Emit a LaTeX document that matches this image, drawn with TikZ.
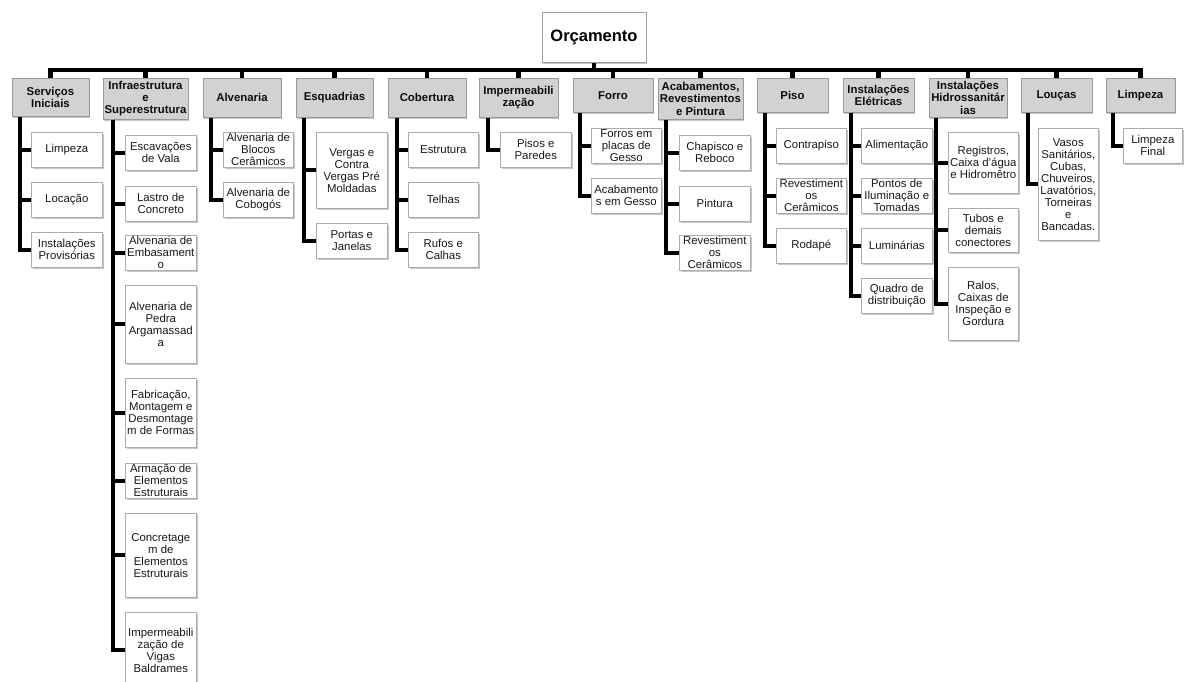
\documentclass[tikz,border=0pt]{standalone}
\usepackage{fontspec}
\setmainfont{Liberation Sans}
\usetikzlibrary{shadows}
\begin{document}
\begin{tikzpicture}[x=1pt, y=-1pt,
    boxshadow/.style={drop shadow={shadow xshift=1.2pt, shadow yshift=-1.8pt, fill=black, opacity=0.22}},
    topbox/.style={anchor=north, draw=gray!75, fill=white, line width=0.7pt, boxshadow, inner sep=1pt, text=black, font=\fontsize{16.5}{18}\selectfont\bfseries},
    catbox/.style={anchor=north, draw=gray!80, fill=gray!35, line width=0.7pt, boxshadow, inner sep=1pt, align=center, text=black!95, font=\fontsize{11.4}{12.2}\selectfont\bfseries},
    itembox/.style={anchor=north west, draw=gray!65, fill=white, line width=0.6pt, boxshadow, inner sep=1pt, align=center, text=black!90, font=\fontsize{11.4}{12}\selectfont},
    sz/.style 2 args={minimum width=#1pt, minimum height=#2pt},
    conn/.style={line width=4.3pt, black}]
    %\draw[help lines, color=gray!30, dashed] (0,0) grid[step=50] (1184,682);
    \useasboundingbox (0,0) rectangle (1184,682);
    \clip (0,0) rectangle (1184,682);
    % root
    \node[topbox, sz={104}{50}] (orc) at (594,12) {Orçamento};
    \coordinate (bus) at (594,70);
    % categories
    \node[catbox, sz={77}{38}] (serv) at (50.5,78) {Serviços\\Iniciais};
    \node[catbox, sz={85}{41}] (infra) at (145.5,78) {Infraestrutura\\e\\Superestrutura};
    \node[catbox, sz={78}{39}] (alv) at (242,78) {Alvenaria};
    \node[catbox, sz={77}{39}] (esq) at (334.5,78) {Esquadrias};
    \node[catbox, sz={78}{39}] (cob) at (427,78) {Cobertura};
    \node[catbox, sz={79}{39}] (imp) at (518.5,78) {Impermeabili\\zação};
    \node[catbox, sz={80}{34}] (forro) at (613,78) {Forro};
    \node[catbox, sz={85}{41}] (acab) at (700.5,78) {Acabamentos,\\Revestimentos\\e Pintura};
    \node[catbox, sz={71}{34}] (piso) at (792.5,78) {Piso};
    \node[catbox, sz={71}{34}] (elet) at (878.5,78) {Instalações\\Elétricas};
    \node[catbox, sz={78}{39}] (hidro) at (968,78) {Instalações\\Hidrossanitár\\ias};
    \node[catbox, sz={71}{34}] (loucas) at (1056.5,78) {Louças};
    \node[catbox, sz={69}{34}] (limp) at (1140.5,78) {Limpeza};
    % Servicos Iniciais
    \node[itembox, sz={71}{35}] (serv1) at (31,132) {Limpeza};
    \node[itembox, sz={71}{35}] (serv2) at (31,182) {Locação};
    \node[itembox, sz={71}{35}] (serv3) at (31,232) {Instalações\\Provisórias};
    % Infraestrutura e Superestrutura
    \node[itembox, sz={71}{35}] (infra1) at (125,135) {Escavações\\de Vala};
    \node[itembox, sz={71}{35}] (infra2) at (125,186) {Lastro de\\Concreto};
    \node[itembox, sz={71}{35}] (infra3) at (125,235) {Alvenaria de\\Embasament\\o};
    \node[itembox, sz={71}{78}] (infra4) at (125,285) {Alvenaria de\\Pedra\\Argamassad\\a};
    \node[itembox, sz={71}{69}] (infra5) at (125,378) {Fabricação,\\Montagem e\\Desmontage\\m de Formas};
    \node[itembox, sz={71}{35}] (infra6) at (125,463) {Armação de\\Elementos\\Estruturais};
    \node[itembox, sz={71}{84}] (infra7) at (125,513) {Concretage\\m de\\Elementos\\Estruturais};
    \node[itembox, sz={71}{76}] (infra8) at (125,612) {Impermeabili\\zação de\\Vigas\\Baldrames};
    % Alvenaria
    \node[itembox, sz={70}{35}] (alv1) at (223,132) {Alvenaria de\\Blocos\\Cerâmicos};
    \node[itembox, sz={70}{35}] (alv2) at (223,182) {Alvenaria de\\Cobogós};
    % Esquadrias
    \node[itembox, sz={71}{76}] (esq1) at (316,132) {Vergas e\\Contra\\Vergas Pré\\Moldadas};
    \node[itembox, sz={71}{35}] (esq2) at (316,223) {Portas e\\Janelas};
    % Cobertura
    \node[itembox, sz={70}{35}] (cob1) at (408,132) {Estrutura};
    \node[itembox, sz={70}{35}] (cob2) at (408,182) {Telhas};
    \node[itembox, sz={70}{35}] (cob3) at (408,232) {Rufos e\\Calhas};
    % Impermeabilizacao
    \node[itembox, sz={71}{35}] (imp1) at (500,132) {Pisos e\\Paredes};
    % Forro
    \node[itembox, sz={70}{35}] (forro1) at (591,128) {Forros em\\placas de\\Gesso};
    \node[itembox, sz={70}{35}] (forro2) at (591,178) {Acabamento\\s em Gesso};
    % Acabamentos
    \node[itembox, sz={71}{35}] (acab1) at (679,135) {Chapisco e\\Reboco};
    \node[itembox, sz={71}{35}] (acab2) at (679,186) {Pintura};
    \node[itembox, sz={71}{35}] (acab3) at (679,235) {Revestiment\\os\\Cerâmicos};
    % Piso
    \node[itembox, sz={70}{35}] (piso1) at (776,128) {Contrapiso};
    \node[itembox, sz={70}{35}] (piso2) at (776,178) {Revestiment\\os\\Cerâmicos};
    \node[itembox, sz={70}{35}] (piso3) at (776,228) {Rodapé};
    % Instalacoes Eletricas
    \node[itembox, sz={71}{35}] (elet1) at (861,128) {Alimentação};
    \node[itembox, sz={71}{35}] (elet2) at (861,178) {Pontos de\\Iluminação e\\Tomadas};
    \node[itembox, sz={71}{35}] (elet3) at (861,228) {Luminárias};
    \node[itembox, sz={71}{35}] (elet4) at (861,278) {Quadro de\\distribuição};
    % Instalacoes Hidrossanitarias
    \node[itembox, sz={70}{61}] (hidro1) at (948,132) {Registros,\\Caixa d'água\\e Hidromêtro};
    \node[itembox, sz={70}{44}] (hidro2) at (948,208) {Tubos e\\demais\\conectores};
    \node[itembox, sz={70}{73}] (hidro3) at (948,267) {Ralos,\\Caixas de\\Inspeção e\\Gordura};
    % Loucas
    \node[itembox, sz={60}{112}] (loucas1) at (1038,128) {Vasos\\Sanitários,\\Cubas,\\Chuveiros,\\Lavatórios,\\Torneiras\\e\\Bancadas.};
    % Limpeza
    \node[itembox, sz={59}{35}] (limp1) at (1123,128) {Limpeza\\Final};
    % bus
    \draw[conn] (orc.south) -- (bus);
    \draw[conn] (serv.north) |- (bus);
    \draw[conn] (infra.north) |- (bus);
    \draw[conn] (alv.north) |- (bus);
    \draw[conn] (esq.north) |- (bus);
    \draw[conn] (cob.north) |- (bus);
    \draw[conn] (imp.north) |- (bus);
    \draw[conn] (forro.north) |- (bus);
    \draw[conn] (acab.north) |- (bus);
    \draw[conn] (piso.north) |- (bus);
    \draw[conn] (elet.north) |- (bus);
    \draw[conn] (hidro.north) |- (bus);
    \draw[conn] (loucas.north) |- (bus);
    \draw[conn] (limp.north) |- (bus);
    % branches
    \draw[conn] ([xshift=8pt]serv.south west) |- (serv1.west);
    \draw[conn] ([xshift=8pt]serv.south west) |- (serv2.west);
    \draw[conn] ([xshift=8pt]serv.south west) |- (serv3.west);
    \draw[conn] ([xshift=10pt]infra.south west) |- (infra1.west);
    \draw[conn] ([xshift=10pt]infra.south west) |- (infra2.west);
    \draw[conn] ([xshift=10pt]infra.south west) |- (infra3.west);
    \draw[conn] ([xshift=10pt]infra.south west) |- (infra4.west);
    \draw[conn] ([xshift=10pt]infra.south west) |- (infra5.west);
    \draw[conn] ([xshift=10pt]infra.south west) |- (infra6.west);
    \draw[conn] ([xshift=10pt]infra.south west) |- (infra7.west);
    \draw[conn] ([xshift=10pt]infra.south west) |- (infra8.west);
    \draw[conn] ([xshift=8pt]alv.south west) |- (alv1.west);
    \draw[conn] ([xshift=8pt]alv.south west) |- (alv2.west);
    \draw[conn] ([xshift=8pt]esq.south west) |- (esq1.west);
    \draw[conn] ([xshift=8pt]esq.south west) |- (esq2.west);
    \draw[conn] ([xshift=9pt]cob.south west) |- (cob1.west);
    \draw[conn] ([xshift=9pt]cob.south west) |- (cob2.west);
    \draw[conn] ([xshift=9pt]cob.south west) |- (cob3.west);
    \draw[conn] ([xshift=9pt]imp.south west) |- (imp1.west);
    \draw[conn] ([xshift=7pt]forro.south west) |- (forro1.west);
    \draw[conn] ([xshift=7pt]forro.south west) |- (forro2.west);
    \draw[conn] ([xshift=8pt]acab.south west) |- (acab1.west);
    \draw[conn] ([xshift=8pt]acab.south west) |- (acab2.west);
    \draw[conn] ([xshift=8pt]acab.south west) |- (acab3.west);
    \draw[conn] ([xshift=8pt]piso.south west) |- (piso1.west);
    \draw[conn] ([xshift=8pt]piso.south west) |- (piso2.west);
    \draw[conn] ([xshift=8pt]piso.south west) |- (piso3.west);
    \draw[conn] ([xshift=8pt]elet.south west) |- (elet1.west);
    \draw[conn] ([xshift=8pt]elet.south west) |- (elet2.west);
    \draw[conn] ([xshift=8pt]elet.south west) |- (elet3.west);
    \draw[conn] ([xshift=8pt]elet.south west) |- (elet4.west);
    \draw[conn] ([xshift=7pt]hidro.south west) |- (hidro1.west);
    \draw[conn] ([xshift=7pt]hidro.south west) |- (hidro2.west);
    \draw[conn] ([xshift=7pt]hidro.south west) |- (hidro3.west);
    \draw[conn] ([xshift=7pt]loucas.south west) |- (loucas1.west);
    \draw[conn] ([xshift=7pt]limp.south west) |- (limp1.west);
\end{tikzpicture}
\end{document}
